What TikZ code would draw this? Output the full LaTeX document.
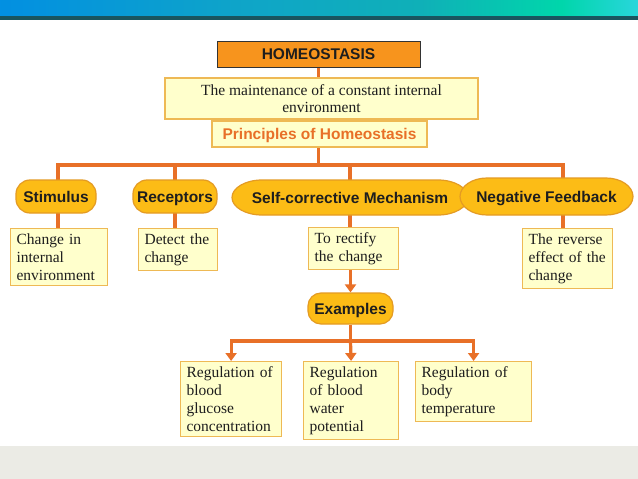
\documentclass[tikz,border=0pt]{standalone}
\usepackage{fontspec}
\setmainfont{Liberation Serif}
\setsansfont{Liberation Sans}
\usetikzlibrary{arrows.meta,positioning,shapes.geometric,backgrounds}

\definecolor{linkorange}{RGB}{232,112,40}
\definecolor{titleorange}{RGB}{247,148,29}
\definecolor{boxyellow}{RGB}{255,255,204}
\definecolor{boxborder}{RGB}{238,185,85}
\definecolor{pillfill}{RGB}{252,188,22}
\definecolor{pillborder}{RGB}{228,155,35}
\definecolor{bandgray}{RGB}{235,235,229}
\definecolor{barshadow}{RGB}{25,85,95}
\definecolor{inktext}{RGB}{30,30,30}

\pgfdeclarehorizontalshading{topbar}{100bp}{rgb(0bp)=(0.08,0.30,0.65); rgb(22bp)=(0.0,0.55,0.90); rgb(45bp)=(0.06,0.65,0.78); rgb(58bp)=(0.06,0.69,0.72); rgb(69bp)=(0.0,0.84,0.67); rgb(75bp)=(0.16,0.84,0.86); rgb(100bp)=(0.16,0.84,0.88)}

\begin{document}
\begin{tikzpicture}[
      x=1pt, y=-1pt,
      every node/.style={font=\fontsize{15.5}{18}\selectfont, text=inktext},
      headbox/.style={draw=boxborder, fill=boxyellow, line width=1.2pt, inner sep=0pt},
      pilltext/.style={inner sep=0pt, text height=11.5pt, text depth=0pt,
        font=\sffamily\bfseries\fontsize{15.5}{18}\selectfont},
      pill/.style={pilltext, draw=pillborder, fill=pillfill, line width=1.2pt, rounded corners=14pt,
        minimum height=33pt},
      pillshape/.style={draw=pillborder, fill=pillfill, line width=1.2pt},
      notebox/.style={draw=boxborder, fill=boxyellow, line width=1.2pt, anchor=north west,
        align=left, inner xsep=6pt, inner ysep=5pt},
      link/.style={draw=linkorange, line width=3.2pt},
      arrowlink/.style={link, -{Triangle[width=11pt,length=8pt]}}
    ]

    \useasboundingbox (0,0) rectangle (638,479);

    % Slide frame
    \begin{scope}[on background layer]
      \fill[white] (0,0) rectangle (638,479);
      \shade[shading=topbar] (0,0) rectangle (638,16);
      \fill[barshadow] (0,15.5) rectangle (638,19.5);
      \fill[bandgray] (0,446) rectangle (638,479);
    \end{scope}

    % Title
    \node[
      draw=black!80,
      fill=titleorange,
      line width=0.8pt,
      inner sep=0pt,
      minimum width=203pt,
      minimum height=26pt,
      font=\sffamily\bfseries\fontsize{15.5}{18}\selectfont
    ] (homeo) at (318.5,54) {HOMEOSTASIS};

    \node[
      headbox,
      minimum width=313pt,
      minimum height=41pt,
      align=center,
      font=\fontsize{15.5}{16.5}\selectfont
    ] (maint) at (321.5,98.5) {The maintenance of a constant internal\\environment};

    \node[
      headbox,
      minimum width=215pt,
      minimum height=26pt,
      text height=11.5pt,
      text depth=0pt,
      text=linkorange,
      font=\sffamily\bfseries\fontsize{15.5}{18}\selectfont
    ] (princ) at (319.5,134) {Principles of Homeostasis};

    % Principles
    \node[pill, minimum width=80pt] (stim) at (56,196.5) {Stimulus};
    \node[pill, minimum width=84pt] (recep) at (175,196.5) {Receptors};

    % long pills with elliptic ends
    \path[pillshape] (262,180) -- (438,180)
      arc[start angle=-90, end angle=90, x radius=30, y radius=17.5]
      -- (262,215)
      arc[start angle=90, end angle=270, x radius=30, y radius=17.5] -- cycle;
    \node[pilltext] (self) at (350,197.5) {Self-corrective Mechanism};

    \path[pillshape] (487,178) -- (606,178)
      arc[start angle=-90, end angle=90, x radius=27, y radius=18.5]
      -- (487,215)
      arc[start angle=90, end angle=270, x radius=27, y radius=18.5] -- cycle;
    \node[pilltext] (neg) at (546.5,196.5) {Negative Feedback};

    % Meanings
    \node[notebox, text width=85pt] (change) at (10,228) {Change in\\internal\\environment};
    \node[notebox, text width=67pt] (detect) at (138,228) {Detect the\\change};
    \node[notebox, text width=78pt] (rectify) at (308,227) {To rectify\\the change};
    \node[notebox, text width=78pt] (reverse) at (522,228) {The reverse\\effect of the\\change};

    % Examples
    \node[
      pill,
      rounded corners=13pt,
      minimum width=85pt,
      minimum height=31pt
    ] (examples) at (350.5,308.5) {Examples};

    \node[notebox, text width=89pt] (glucose) at (180,361) {Regulation of\\blood\\glucose\\concentration};
    \node[notebox, text width=83pt] (water) at (303,361) {Regulation\\of blood\\water\\potential};
    \node[notebox, text width=104pt] (temp) at (415,361) {Regulation of\\body\\temperature};

    % Connectors
    \coordinate (busL) at (58,165);
    \coordinate (busR) at (563,165);
    \coordinate (exbus) at (350.5,341);

    \begin{scope}[on background layer]
      \draw[link] (homeo) -- (homeo |- busL);
      \draw[link] (busL |- change.north) -- (busL) -- (busR) -- (busR |- reverse.north);
      \draw[link] (recep |- busL) -- (recep |- detect.north);
      \draw[link] (self |- busL) -- (self |- rectify.north);
      \draw[arrowlink] (rectify.south -| examples) -- (examples.north);
      \draw[link] (examples) -- (exbus);
      \draw[arrowlink] (exbus) -| (glucose.north);
      \draw[arrowlink] (exbus) -| (temp.north);
      \draw[arrowlink] (exbus) -- (water.north);
    \end{scope}

  \end{tikzpicture}
\end{document}
